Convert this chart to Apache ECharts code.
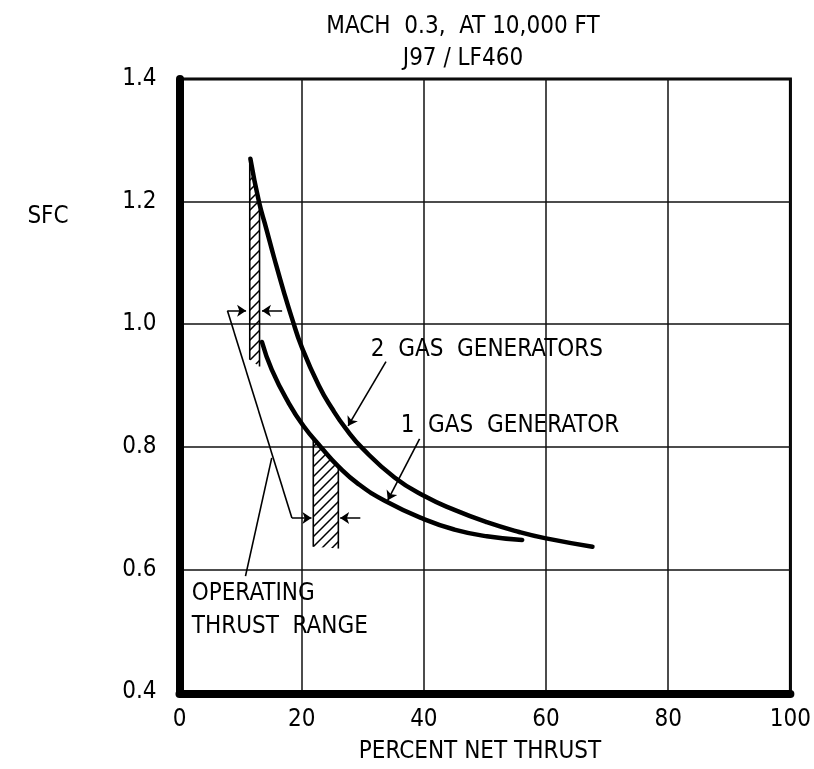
<!DOCTYPE html>
<html><head><meta charset="utf-8">
<script src="https://cdn.jsdelivr.net/npm/echarts@6/dist/echarts.min.js"></script>
<style>html,body{margin:0;padding:0;background:#fff}#c{width:814px;height:769px}</style>
</head><body><div id="c"></div>
<script>
// ---- data ----
const xTicks = [0, 20, 40, 60, 80, 100];
const yTicks = [0.4, 0.6, 0.8, 1.0, 1.2, 1.4];

const twoGasX = [11.6, 13.0, 14.2, 15.5, 17.1, 18.4, 20.0, 22.8, 25.0, 27.2, 30.0, 35.2, 40.0, 45.0, 50.3, 55.6, 59.8, 67.6];
const twoGasY = [1.270, 1.200, 1.156, 1.108, 1.052, 1.010, 0.963, 0.900, 0.862, 0.830, 0.797, 0.750, 0.720, 0.697, 0.677, 0.661, 0.651, 0.637];

const oneGasX = [13.5, 15.1, 17.9, 20.3, 23.2, 26.0, 29.2, 33.6, 40.0, 45.0, 50.3, 56.1];
const oneGasY = [0.971, 0.926, 0.871, 0.834, 0.799, 0.768, 0.740, 0.712, 0.682, 0.665, 0.654, 0.648];

// operating thrust range (hatched) regions: polygon vertices [x, y]
const hatchLow  = [[11.5, 0.942], [11.5, 1.268], [12.2, 1.237], [13.1, 1.195], [13.1, 0.931]];
const hatchHigh = [[21.9, 0.637], [21.9, 0.815], [23.2, 0.799], [24.6, 0.783], [26.0, 0.768], [26.0, 0.634]];

// annotation leader segments [[x1,y1],[x2,y2]]
const arrowSegs = [
  [[7.85, 1.022], [10.9, 1.022]],
  [[16.8, 1.022], [13.5, 1.022]],
  [[18.4, 0.684], [21.6, 0.684]],
  [[29.6, 0.684], [26.3, 0.684]],
  [[33.8, 0.939], [27.6, 0.834]],
  [[39.3, 0.813], [34.1, 0.713]]
];
const plainSegs = [
  [[7.85, 1.022], [18.4, 0.684]],
  [[10.8, 0.589], [15.1, 0.782]]
];

const noteText = ['2  GAS  GENERATORS', '1  GAS  GENERATOR', 'OPERATING', 'THRUST  RANGE', 'SFC'];
const noteX = [31.3, 36.2, 2.0, 2.0, -24.9];
const noteY = [0.959, 0.834, 0.560, 0.506, 1.176];

const titleLines = ['MACH  0.3,  AT 10,000 FT', 'J97 / LF460'];
const xName = 'PERCENT NET THRUST';

// ---- font choice ----
function hasFont(name) {
  const c = document.createElement('canvas').getContext('2d');
  const s = 'PERCENT NET THRUST 0123';
  let r = false;
  ['monospace', 'serif'].forEach(f => {
    c.font = '40px ' + f; const a = c.measureText(s).width;
    c.font = '40px "' + name + '", ' + f; const b = c.measureText(s).width;
    if (Math.abs(a - b) > 0.5) r = true;
  });
  return r;
}
let FF = 'DejaVu Sans', FS = 21;
if (hasFont('DejaVu Sans Condensed')) { FF = 'DejaVu Sans Condensed'; FS = 24; }
else if (hasFont('Liberation Sans Narrow')) { FF = 'Liberation Sans Narrow'; FS = 24; }

// ---- hatch pattern ----
const T = 10;
const pc = document.createElement('canvas'); pc.width = T; pc.height = T;
const g = pc.getContext('2d'); g.strokeStyle = '#000'; g.lineWidth = 1.5;
g.beginPath(); g.moveTo(0, T); g.lineTo(T, 0); g.moveTo(-3, 3); g.lineTo(3, -3); g.moveTo(T - 3, T + 3); g.lineTo(T + 3, T - 3); g.stroke();

const chart = echarts.init(document.getElementById('c'), null, { renderer: 'canvas' });
const hatches = [hatchLow, hatchHigh];

chart.setOption({
  animation: false,
  backgroundColor: '#fff',
  title: {
    text: titleLines.join('\n'), left: 458, top: 6, textAlign: 'center',
    textStyle: { fontFamily: FF, fontSize: FS, fontWeight: 'normal', color: '#000', lineHeight: 32 }
  },
  grid: { left: 179.5, right: 17, top: 79, bottom: 70, show: true, borderColor: '#000', borderWidth: 3 },
  xAxis: {
    type: 'value', min: xTicks[0], max: xTicks[xTicks.length - 1], interval: xTicks[1] - xTicks[0],
    offset: 2,
    axisLine: { show: true, lineStyle: { color: '#000', width: 8 } },
    axisTick: { show: false },
    splitLine: { show: true, lineStyle: { color: '#111', width: 1.5 } },
    axisLabel: { color: '#000', fontFamily: FF, fontSize: FS, margin: 14 },
    name: xName, nameLocation: 'middle', nameGap: 46,
    nameTextStyle: { color: '#000', fontFamily: FF, fontSize: FS, padding: [0, 10, 0, 0] }
  },
  yAxis: {
    type: 'value', min: yTicks[0], max: yTicks[yTicks.length - 1], interval: 0.2,
    offset: 3,
    axisLine: { show: true, lineStyle: { color: '#000', width: 8 } },
    axisTick: { show: false },
    splitLine: { show: true, lineStyle: { color: '#111', width: 1.5 } },
    axisLabel: { color: '#000', fontFamily: FF, fontSize: FS, margin: 20, formatter: v => v.toFixed(1) }
  },
  series: [
    {
      type: 'custom', z: 2, clip: false,
      data: hatches.map((h, i) => [h[0][0], h[0][1], i]),
      renderItem: (params, api) => {
        const h = hatches[params.dataIndex];
        const pts = h.map(p => api.coord(p));
        const n = pts.length;
        return {
          type: 'group', children: [
            { type: 'polygon', shape: { points: pts }, style: { fill: { image: pc, repeat: 'repeat' }, stroke: null } },
            { type: 'polyline', shape: { points: [pts[0], pts[1]] }, style: { stroke: '#000', lineWidth: 1.6, fill: null } },
            { type: 'polyline', shape: { points: [pts[n - 2], pts[n - 1]] }, style: { stroke: '#000', lineWidth: 1.6, fill: null } }
          ]
        };
      }
    },
    {
      type: 'line', z: 3, data: twoGasX.map((x, i) => [x, twoGasY[i]]),
      smooth: 0.5, showSymbol: false, symbol: 'none',
      lineStyle: { color: '#000', width: 4.5, cap: 'round' }
    },
    {
      type: 'line', z: 3, data: oneGasX.map((x, i) => [x, oneGasY[i]]),
      smooth: 0.5, showSymbol: false, symbol: 'none',
      lineStyle: { color: '#000', width: 4.5, cap: 'round' }
    },
    {
      type: 'lines', coordinateSystem: 'cartesian2d', z: 4,
      symbol: ['none', 'arrow'], symbolSize: [0, 9],
      lineStyle: { color: '#000', width: 1.6, opacity: 1, curveness: 0 },
      data: arrowSegs.map(s => ({ coords: s }))
    },
    {
      type: 'lines', coordinateSystem: 'cartesian2d', z: 4,
      symbol: ['none', 'none'],
      lineStyle: { color: '#000', width: 1.6, opacity: 1, curveness: 0 },
      data: plainSegs.map(s => ({ coords: s }))
    },
    {
      type: 'custom', z: 5, clip: false,
      data: noteX.map((x, i) => [x, noteY[i]]),
      renderItem: (params, api) => {
        const i = params.dataIndex;
        const p = api.coord([noteX[i], noteY[i]]);
        return {
          type: 'text', x: p[0], y: p[1],
          style: { text: noteText[i], fill: '#000', fontFamily: FF, fontSize: FS, align: 'left', verticalAlign: 'middle' }
        };
      }
    }
  ]
});
</script>
</body></html>
